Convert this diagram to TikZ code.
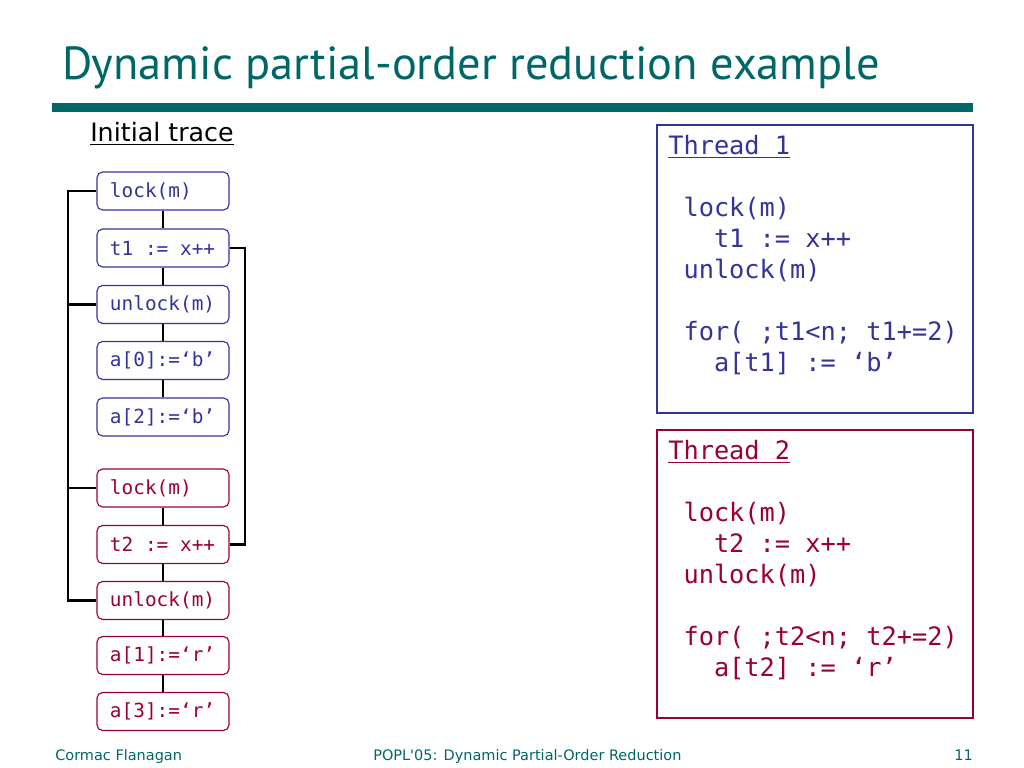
\documentclass[tikz,border=0pt]{standalone}
\usepackage{fontspec}
\setmainfont{PT Sans}
\newfontfamily\codefont{DejaVu Sans Mono}
\newfontfamily\slidefont[Ligatures=TeXOff]{DejaVu Sans}
\usetikzlibrary{positioning}
\definecolor{slideteal}{RGB}{0,102,102}
\definecolor{tone}{RGB}{51,51,153}
\definecolor{ttwo}{RGB}{153,0,51}
\tikzset{
  opbox/.style={draw,rounded corners=4pt,line width=0.8pt,minimum height=0.95cm,text width=2.65cm,inner xsep=0.325cm,inner ysep=0pt,align=flush left,font=\codefont\fontsize{13.8}{15}\selectfont},
  opone/.style={opbox,draw=tone,text=tone},
  optwo/.style={opbox,draw=ttwo,text=ttwo},
  seqline/.style={line width=1.7pt,black},
  threadbox/.style={line width=0.9pt},
  code/.style={anchor=north west,inner sep=0pt,align=left,font=\codefont\fontsize{18}{22}\selectfont},
  foot/.style={inner sep=0pt,text=slideteal,font=\slidefont\fontsize{10.3}{12}\selectfont}
}
\begin{document}
\begin{tikzpicture}[x=0.025cm,y=-0.025cm]
\useasboundingbox (0,0) rectangle (1024,768);
% title and bar
\node[anchor=base west,inner sep=0pt,text=slideteal,font=\fontsize{33}{38}\selectfont] (title) at (62,80) {Dynamic partial-order reduction example};
\fill[slideteal] (52,103) rectangle (973,112);
% initial trace
\node[anchor=base west,inner sep=0pt,font=\slidefont\fontsize{18}{20}\selectfont] (trace) at (90,142) {\underline{Initial trace}};
\node[opone] (lk1) at (163,191) {lock(m)};
\node[opone] (inc1) at (163,248) {t1 := x++};
\node[opone] (ulk1) at (163,304.5) {unlock(m)};
\node[opone] (wa0) at (163,360.5) {a[0]:=‘b’};
\node[opone] (wa2) at (163,417) {a[2]:=‘b’};
\node[optwo] (lk2) at (163,488) {lock(m)};
\node[optwo] (inc2) at (163,544.5) {t2 := x++};
\node[optwo] (ulk2) at (163,600.5) {unlock(m)};
\node[optwo] (wa1) at (163,655.5) {a[1]:=‘r’};
\node[optwo] (wa3) at (163,711.5) {a[3]:=‘r’};
\draw[seqline] (lk1) -- (inc1); \draw[seqline] (inc1) -- (ulk1); \draw[seqline] (ulk1) -- (wa0); \draw[seqline] (wa0) -- (wa2);
\draw[seqline] (lk2) -- (inc2); \draw[seqline] (inc2) -- (ulk2); \draw[seqline] (ulk2) -- (wa1); \draw[seqline] (wa1) -- (wa3);
% lock and race brackets
\coordinate (lbar) at (68,0); \coordinate (rbar) at (245,0);
\draw[seqline] (lk1.west) -- (lk1.west -| lbar) |- (ulk2.west);
\draw[seqline] (ulk1.west) -- (ulk1.west -| lbar); \draw[seqline] (lk2.west) -- (lk2.west -| lbar);
\draw[seqline] (inc1.east) -- (inc1.east -| rbar) |- (inc2.east);
% thread code
\draw[threadbox,tone] (657,125) rectangle (973,413);
\node[code,text=tone] (code1) at (668,135) {\underline{Thread 1}\\ \strut\\ \phantom{x}lock(m)\\ \phantom{xxx}t1 := x++\\ \phantom{x}unlock(m)\\ \strut\\ \phantom{x}for( ;t1<n; t1+=2)\\ \phantom{xxx}a[t1] := ‘b’};
\draw[threadbox,ttwo] (657,430) rectangle (973,718);
\node[code,text=ttwo] (code2) at (668,440) {\underline{Thread 2}\\ \strut\\ \phantom{x}lock(m)\\ \phantom{xxx}t2 := x++\\ \phantom{x}unlock(m)\\ \strut\\ \phantom{x}for( ;t2<n; t2+=2)\\ \phantom{xxx}a[t2] := ‘r’};
% footer
\node[foot,anchor=base west] (author) at (55,760) {Cormac Flanagan};
\node[foot,anchor=base west] (talk) at (373,760) {POPL'05: Dynamic Partial-Order Reduction};
\node[foot,anchor=base east] (page) at (973,760) {11};
\end{tikzpicture}
\end{document}
